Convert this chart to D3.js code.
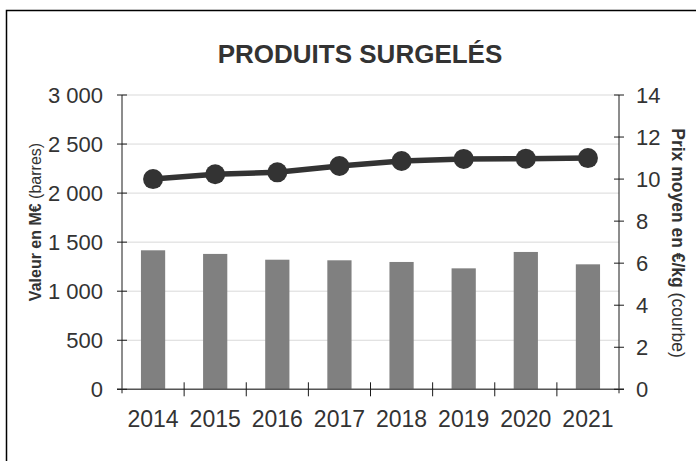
<!DOCTYPE html>
<html>
<head>
<meta charset="utf-8">
<script src="https://cdn.jsdelivr.net/npm/d3@7"></script>
<style>
body { margin: 0; background: #fff; }
text { font-family: "Liberation Sans", Arial, sans-serif; }
</style>
</head>
<body>
<svg id="viz"></svg>
<script>
const years = ["2014", "2015", "2016", "2017", "2018", "2019", "2020", "2021"];
const valeur = [1417, 1380, 1321, 1315, 1298, 1233, 1400, 1274];
const prix = [10.0, 10.23, 10.32, 10.62, 10.86, 10.96, 10.97, 11.0];
const leftTicks = [0, 500, 1000, 1500, 2000, 2500, 3000];
const rightTicks = [0, 2, 4, 6, 8, 10, 12, 14];

const width = 696, height = 461;
const m = { left: 122, right: 619, top: 95, bottom: 389.3 };

const svg = d3.select("#viz").attr("width", width).attr("height", height);

// frame (only top and left edges show in the picture)
svg.append("path")
    .attr("d", `M6.5,${height} L6.5,10.5 L${width},10.5`)
    .attr("fill", "none").attr("stroke", "#000").attr("stroke-width", 1.5);

svg.append("text")
    .attr("x", 360).attr("y", 63)
    .attr("text-anchor", "middle")
    .attr("font-size", 26).attr("font-weight", "bold").attr("fill", "#333")
    .text("PRODUITS SURGELÉS");

const x = d3.scaleBand().domain(years).range([m.left, m.right]).paddingInner(0.61).paddingOuter(0.305);
const xEdge = d3.scaleLinear().domain([0, years.length]).range([m.left, m.right]);
const yL = d3.scaleLinear().domain([0, 3000]).range([m.bottom, m.top]);
const yR = d3.scaleLinear().domain([0, 14]).range([m.bottom, m.top]);

// grid
svg.append("g").selectAll("line").data(leftTicks.slice(1)).enter().append("line")
    .attr("x1", m.left).attr("x2", m.right)
    .attr("y1", d => yL(d)).attr("y2", d => yL(d))
    .attr("stroke", "#d9d9d9").attr("stroke-width", 1);

// bars
svg.append("g").selectAll("rect").data(valeur).enter().append("rect")
    .attr("x", (d, i) => x(years[i]))
    .attr("width", x.bandwidth())
    .attr("y", d => yL(d))
    .attr("height", d => yL(0) - yL(d))
    .attr("fill", "#808080");

// axes
const axisColor = "#1a1a1a";
svg.append("line").attr("x1", m.left).attr("x2", m.left).attr("y1", m.top).attr("y2", m.bottom + 4)
    .attr("stroke", axisColor);
svg.append("line").attr("x1", m.right).attr("x2", m.right).attr("y1", m.top).attr("y2", m.bottom + 4)
    .attr("stroke", axisColor);
svg.append("line").attr("x1", m.left - 5).attr("x2", m.right + 5).attr("y1", m.bottom).attr("y2", m.bottom)
    .attr("stroke", "#555").attr("stroke-width", 1.5);

const gl = svg.append("g");
gl.selectAll("line").data(leftTicks).enter().append("line")
    .attr("x1", m.left - 5).attr("x2", m.left + 5)
    .attr("y1", d => yL(d)).attr("y2", d => yL(d)).attr("stroke", axisColor);
gl.selectAll("text").data(leftTicks).enter().append("text")
    .attr("x", 103).attr("y", d => yL(d) + 8)
    .attr("text-anchor", "end").attr("font-size", 22).attr("fill", "#333")
    .text(d => d3.format(",")(d).replace(",", " "));

const gr = svg.append("g");
gr.selectAll("line").data(rightTicks).enter().append("line")
    .attr("x1", m.right - 5).attr("x2", m.right + 5)
    .attr("y1", d => yR(d)).attr("y2", d => yR(d)).attr("stroke", axisColor);
gr.selectAll("text").data(rightTicks).enter().append("text")
    .attr("x", 636).attr("y", d => yR(d) + 8)
    .attr("text-anchor", "start").attr("font-size", 22).attr("fill", "#333")
    .text(d => d);

const gx = svg.append("g");
gx.selectAll("line").data(d3.range(1, years.length)).enter().append("line")
    .attr("x1", d => xEdge(d)).attr("x2", d => xEdge(d))
    .attr("y1", m.bottom - 7).attr("y2", m.bottom + 7).attr("stroke", axisColor);
gx.selectAll("text").data(years).enter().append("text")
    .attr("x", d => x(d) + x.bandwidth() / 2).attr("y", 427)
    .attr("text-anchor", "middle").attr("font-size", 23).attr("fill", "#333")
    .text(d => d);

// axis titles
const tl = svg.append("text")
    .attr("transform", "translate(41,222) rotate(-90)")
    .attr("text-anchor", "middle").attr("font-size", 16).attr("fill", "#333");
tl.append("tspan").attr("font-weight", "bold").text("Valeur en M€ ");
tl.append("tspan").text("(barres)");

const tr = svg.append("text")
    .attr("transform", "translate(672,243) rotate(90)")
    .attr("text-anchor", "middle").attr("font-size", 17.5).attr("fill", "#333");
tr.append("tspan").attr("font-weight", "bold").text("Prix moyen en €/kg ");
tr.append("tspan").text("(courbe)");

// line
const line = d3.line().x((d, i) => x(years[i]) + x.bandwidth() / 2).y(d => yR(d));
svg.append("path").datum(prix)
    .attr("d", line).attr("fill", "none").attr("stroke", "#333").attr("stroke-width", 5.5);
svg.append("g").selectAll("circle").data(prix).enter().append("circle")
    .attr("cx", (d, i) => x(years[i]) + x.bandwidth() / 2)
    .attr("cy", d => yR(d)).attr("r", 10).attr("fill", "#333");
</script>
</body>
</html>
